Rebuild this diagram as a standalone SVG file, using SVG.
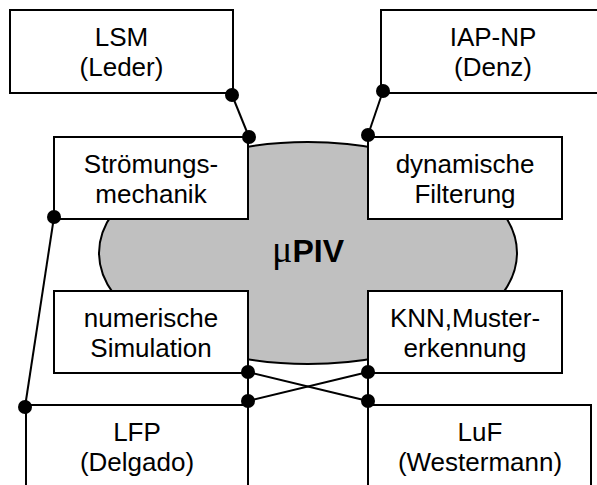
<svg xmlns="http://www.w3.org/2000/svg" width="597" height="485" viewBox="0 0 597 485">
<style>
.box{fill:#fff;stroke:#000;stroke-width:2}
.t{font-family:"Liberation Sans",Arial,sans-serif;font-size:26px;text-anchor:middle;fill:#000}
.ln{stroke:#000;stroke-width:2;fill:none}
.dot{fill:#000}
</style>
<rect width="597" height="485" fill="#fff"/>
<g id="uPIV">
<ellipse cx="308" cy="253" rx="209" ry="111" fill="#C0C0C0" stroke="#000" stroke-width="2"/>
<text x="308" y="262" text-anchor="middle" fill="#000"><tspan font-family="'Liberation Serif',serif" font-size="38">μ</tspan><tspan font-family="'Liberation Sans',Arial,sans-serif" font-size="32" font-weight="bold">PIV</tspan></text>
</g>
<g id="LSM">
<rect class="box" x="10" y="10" width="223" height="83"/>
<text class="t" x="121.5" y="46">LSM</text>
<text class="t" x="121.5" y="76">(Leder)</text>
</g>
<g id="IAPNP">
<rect class="box" x="381" y="10" width="224" height="83"/>
<text class="t" x="493" y="46">IAP-NP</text>
<text class="t" x="493" y="76">(Denz)</text>
</g>
<g id="Stroemungsmechanik">
<rect class="box" x="54" y="137" width="194" height="82"/>
<text class="t" x="151" y="173">Strömungs-</text>
<text class="t" x="151" y="203">mechanik</text>
</g>
<g id="Filterung">
<rect class="box" x="368" y="137" width="194" height="82"/>
<text class="t" x="465" y="173">dynamische</text>
<text class="t" x="465" y="203">Filterung</text>
</g>
<g id="Simulation">
<rect class="box" x="54" y="291" width="194" height="82"/>
<text class="t" x="151" y="327">numerische</text>
<text class="t" x="151" y="357">Simulation</text>
</g>
<g id="KNN">
<rect class="box" x="368" y="291" width="194" height="82"/>
<text class="t" x="465" y="327">KNN,Muster-</text>
<text class="t" x="465" y="357">erkennung</text>
</g>
<g id="LFP">
<rect class="box" x="26" y="405" width="222" height="84"/>
<text class="t" x="137" y="441">LFP</text>
<text class="t" x="137" y="471">(Delgado)</text>
</g>
<g id="LuF">
<rect class="box" x="368" y="405" width="223" height="84"/>
<text class="t" x="480" y="441">LuF</text>
<text class="t" x="480" y="471">(Westermann)</text>
</g>
<g id="connectors">
<line class="ln" x1="232" y1="95" x2="249" y2="137"/>
<line class="ln" x1="383" y1="91" x2="368" y2="135"/>
<line class="ln" x1="54" y1="217" x2="25" y2="407"/>
<line class="ln" x1="248" y1="372" x2="248" y2="405"/>
<line class="ln" x1="368" y1="372" x2="368" y2="405"/>
<line class="ln" x1="248" y1="372" x2="368" y2="401"/>
<line class="ln" x1="248" y1="401" x2="368" y2="372"/>
<circle class="dot" cx="232" cy="95" r="7"/>
<circle class="dot" cx="249" cy="137" r="7"/>
<circle class="dot" cx="383" cy="91" r="7"/>
<circle class="dot" cx="368" cy="135" r="7"/>
<circle class="dot" cx="54" cy="217" r="7"/>
<circle class="dot" cx="25" cy="407" r="7"/>
<circle class="dot" cx="248" cy="372" r="7"/>
<circle class="dot" cx="248" cy="401" r="7"/>
<circle class="dot" cx="368" cy="372" r="7"/>
<circle class="dot" cx="368" cy="401" r="7"/>
</g>
</svg>
